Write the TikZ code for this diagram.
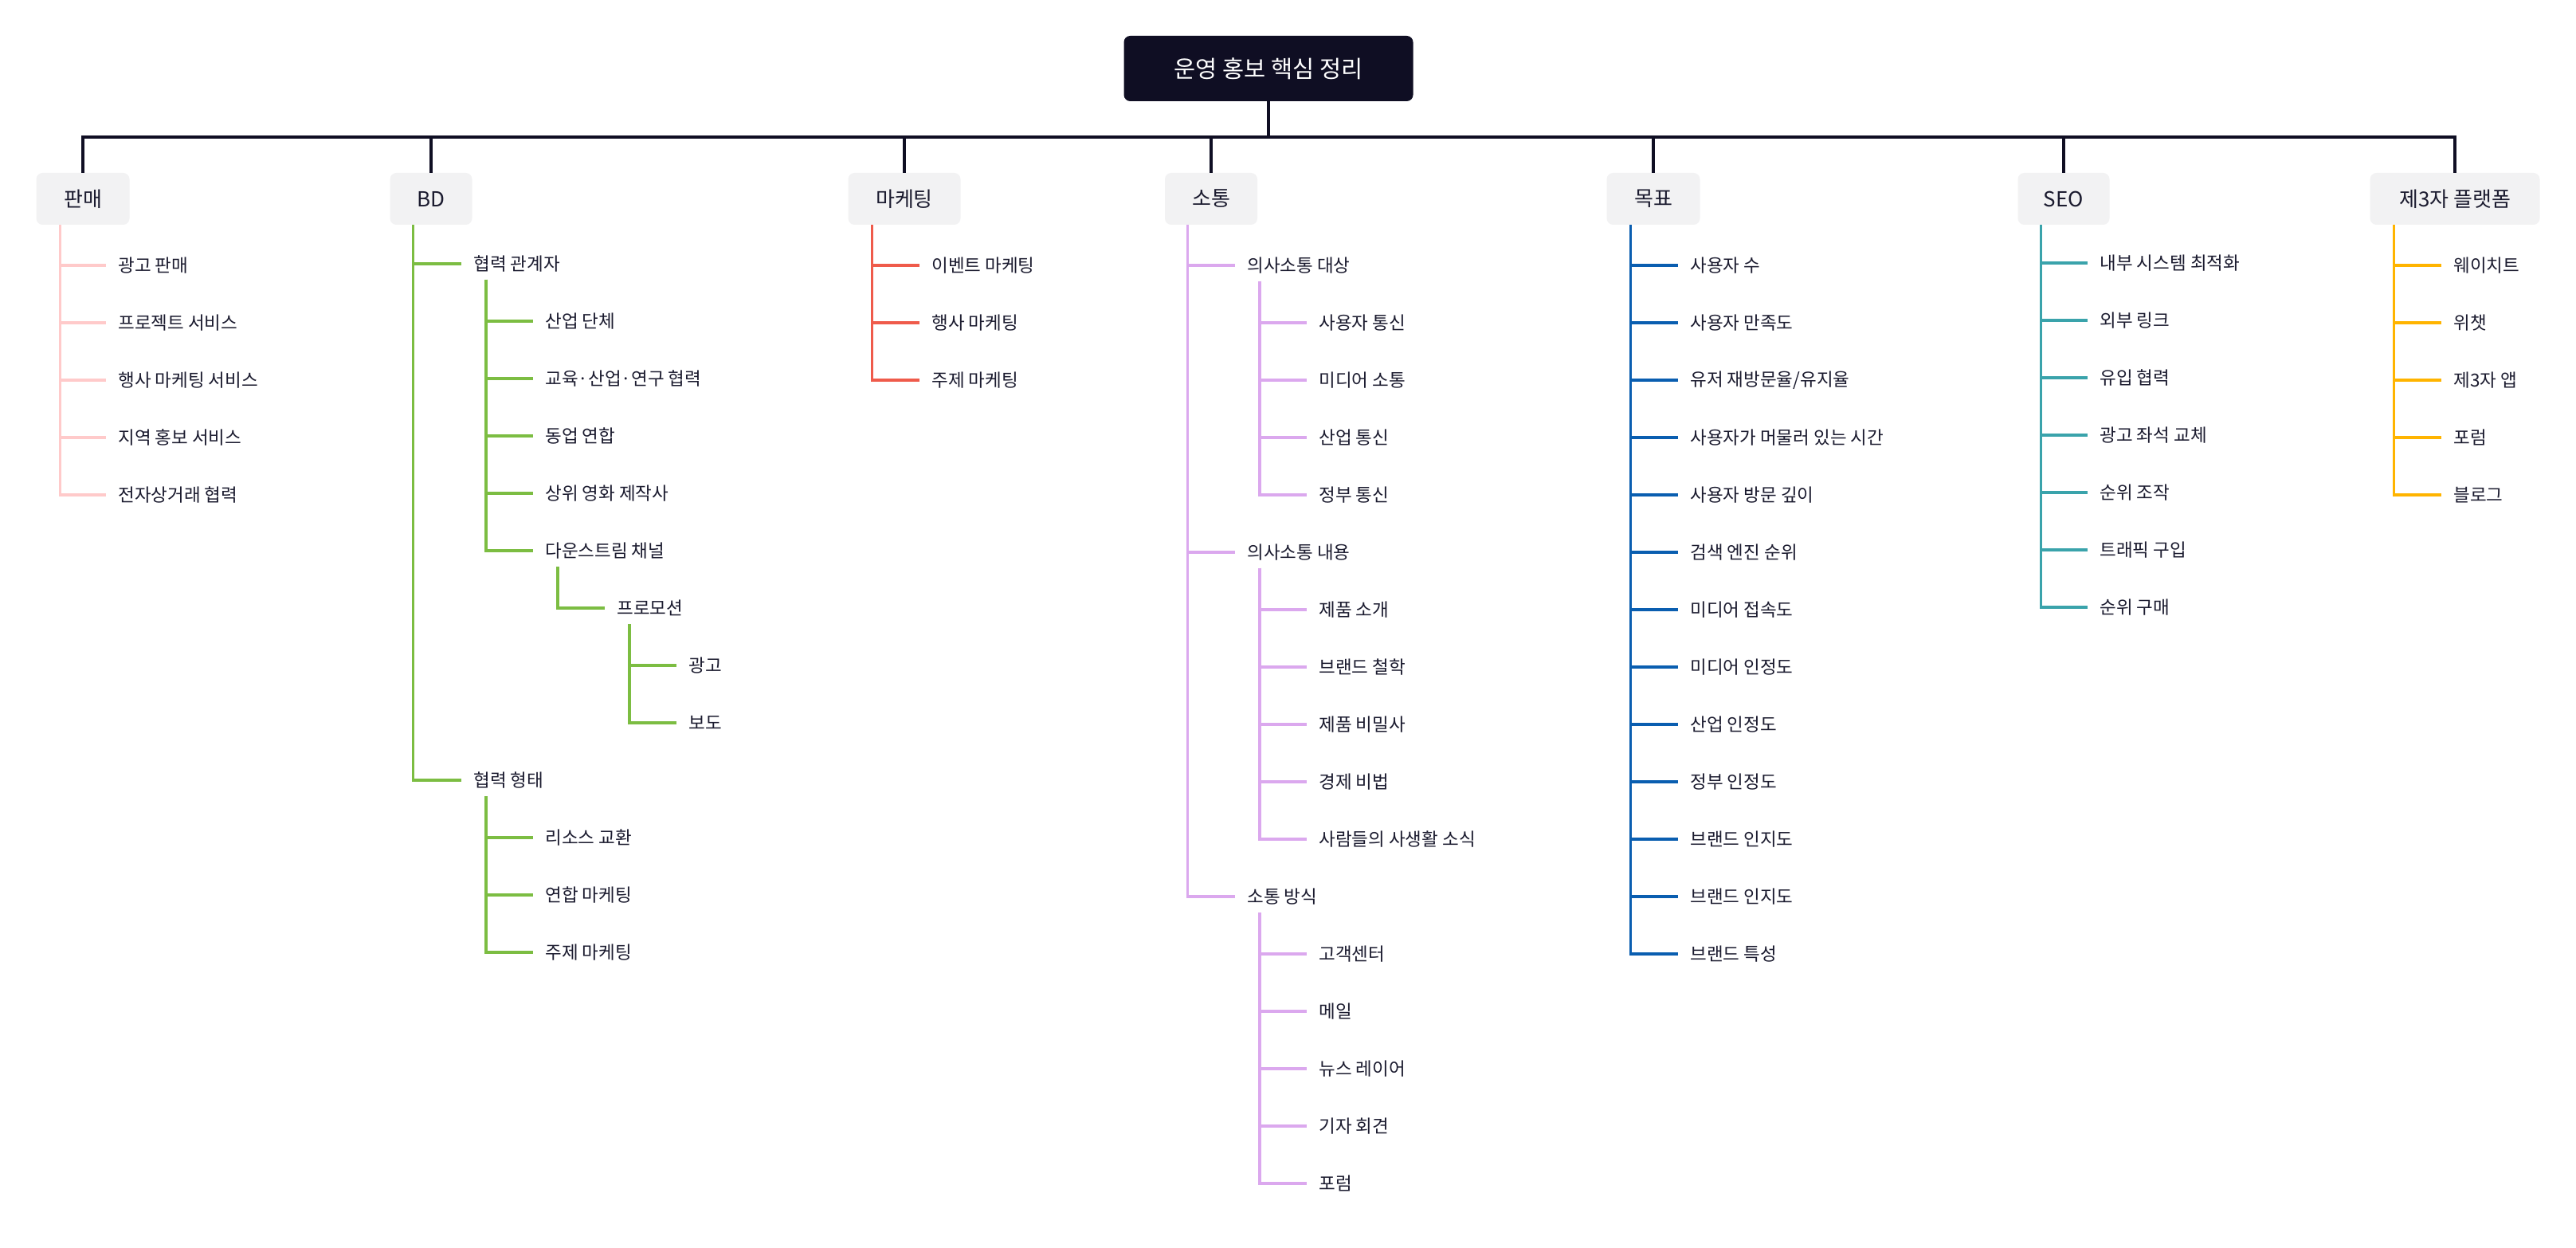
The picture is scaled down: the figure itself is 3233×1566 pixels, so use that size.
\documentclass[tikz,border=0pt]{standalone}
\usepackage{fontspec}
\setmainfont{Noto Sans CJK KR}
\usetikzlibrary{calc}
\definecolor{ink}{HTML}{1B1B2F}
\definecolor{rootbg}{HTML}{0F0E23}
\definecolor{catbg}{HTML}{F2F2F3}
\definecolor{cpink}{HTML}{FFCACA}
\definecolor{cgreen}{HTML}{7CBD42}
\definecolor{cred}{HTML}{EF5B4B}
\definecolor{cviolet}{HTML}{DBA8EE}
\definecolor{cblue}{HTML}{0A5EB0}
\definecolor{cteal}{HTML}{3AA3AB}
\definecolor{camber}{HTML}{FFB400}
\begin{document}
\begin{tikzpicture}[x=0.5pt,y=-0.5pt,
  leaf/.style={anchor=west, inner xsep=7.5pt, inner ysep=2pt, text=ink, font=\fontsize{11.25pt}{13pt}\selectfont},
  cat/.style={fill=catbg, rounded corners=4pt, minimum height=32.5pt, text=ink, inner sep=0pt, font=\fontsize{13pt}{15pt}\selectfont},
  rootbox/.style={fill=rootbg, rounded corners=4pt, minimum width=181.5pt, minimum height=41pt, text=white, font=\fontsize{14.75pt}{17pt}\selectfont},
  bus/.style={draw=rootbg, line width=1.6pt},
  br/.style={line width=1.6pt}
]
\useasboundingbox (0,0) rectangle (3233,1566);
\fill[white] (0,0) rectangle (3233,1566);

% root and categories
\node[rootbox] (root) at (1592,86) {운영 홍보 핵심 정리};
\coordinate (busy) at (0,172);
\node[cat, minimum width=58.5pt] (c1) at (104,249.5) {판매};
\node[cat, minimum width=51.5pt] (c2) at (541,249.5) {BD};
\node[cat, minimum width=70.5pt] (c3) at (1135,249.5) {마케팅};
\node[cat, minimum width=58pt] (c4) at (1520,249.5) {소통};
\node[cat, minimum width=58.5pt] (c5) at (2075,249.5) {목표};
\node[cat, minimum width=57.5pt] (c6) at (2590,249.5) {SEO};
\node[cat, minimum width=106.5pt] (c7) at (3081,249.5) {제3자 플랫폼};

\draw[bus] (c1.north) -- (c1.north |- busy) -- (c7.north |- busy) -- (c7.north);
\draw[bus] (root.south) -- (root.south |- busy);
\foreach \c in {c2,c3,c4,c5,c6} \draw[bus] (\c.north) -- (\c.north |- busy);

% 판매
\foreach \t [count=\i from 0] in {광고 판매,프로젝트 서비스,행사 마케팅 서비스,지역 홍보 서비스,전자상거래 협력} {
  \node[leaf] (p\i) at (133,{333+72*\i}) {\t};
  \draw[cpink, br] ($(c1.south west)+(30,0)$) |- (p\i.west);
}

% BD
\node[leaf] (b1) at (579,331) {협력 관계자};
\node[leaf] (b2) at (579,979) {협력 형태};
\draw[cgreen, br] ($(c2.south west)+(29,0)$) |- (b1.west);
\draw[cgreen, br] ($(c2.south west)+(29,0)$) |- (b2.west);
\node[leaf] (b11) at (669,403) {산업 단체};
\node[leaf] (b12) at (669,475) {교육·산업·연구 협력};
\node[leaf] (b13) at (669,547) {동업 연합};
\node[leaf] (b14) at (669,619) {상위 영화 제작사};
\node[leaf] (b15) at (669,691) {다운스트림 채널};
\foreach \n in {b11,b12,b13,b14,b15} \draw[cgreen, br] ($(b1.west)+(31,20)$) |- (\n.west);
\node[leaf] (b151) at (759,763) {프로모션};
\draw[cgreen, br] ($(b15.west)+(31,20)$) |- (b151.west);
\node[leaf] (b1511) at (849,835) {광고};
\node[leaf] (b1512) at (849,907) {보도};
\foreach \n in {b1511,b1512} \draw[cgreen, br] ($(b151.west)+(31,20)$) |- (\n.west);
\node[leaf] (b21) at (669,1051) {리소스 교환};
\node[leaf] (b22) at (669,1123) {연합 마케팅};
\node[leaf] (b23) at (669,1195) {주제 마케팅};
\foreach \n in {b21,b22,b23} \draw[cgreen, br] ($(b2.west)+(31,20)$) |- (\n.west);

% 마케팅
\foreach \t [count=\i from 0] in {이벤트 마케팅,행사 마케팅,주제 마케팅} {
  \node[leaf] (m\i) at (1154,{333+72*\i}) {\t};
  \draw[cred, br] ($(c3.south west)+(30,0)$) |- (m\i.west);
}

% 소통
\node[leaf] (s1) at (1550,333) {의사소통 대상};
\node[leaf] (s2) at (1550,693) {의사소통 내용};
\node[leaf] (s3) at (1550,1125) {소통 방식};
\foreach \n in {s1,s2,s3} \draw[cviolet, br] ($(c4.south west)+(29,0)$) |- (\n.west);
\foreach \t [count=\i from 1] in {사용자 통신,미디어 소통,산업 통신,정부 통신} {
  \node[leaf] (sa\i) at (1640,{333+72*\i}) {\t};
  \draw[cviolet, br] ($(s1.west)+(31,20)$) |- (sa\i.west);
}
\foreach \t [count=\i from 1] in {제품 소개,브랜드 철학,제품 비밀사,경제 비법,사람들의 사생활 소식} {
  \node[leaf] (sb\i) at (1640,{693+72*\i}) {\t};
  \draw[cviolet, br] ($(s2.west)+(31,20)$) |- (sb\i.west);
}
\foreach \t [count=\i from 1] in {고객센터,메일,뉴스 레이어,기자 회견,포럼} {
  \node[leaf] (sc\i) at (1640,{1125+72*\i}) {\t};
  \draw[cviolet, br] ($(s3.west)+(31,20)$) |- (sc\i.west);
}

% 목표
\foreach \t [count=\i from 0] in {사용자 수,사용자 만족도,유저 재방문율/유지율,사용자가 머물러 있는 시간,사용자 방문 깊이,검색 엔진 순위,미디어 접속도,미디어 인정도,산업 인정도,정부 인정도,브랜드 인지도,브랜드 인지도,브랜드 특성} {
  \node[leaf] (g\i) at (2106,{333+72*\i}) {\t};
  \draw[cblue, br] ($(c5.south west)+(30,0)$) |- (g\i.west);
}

% SEO
\foreach \t [count=\i from 0] in {내부 시스템 최적화,외부 링크,유입 협력,광고 좌석 교체,순위 조작,트래픽 구입,순위 구매} {
  \node[leaf] (e\i) at (2620,{330+72*\i}) {\t};
  \draw[cteal, br] ($(c6.south west)+(29,0)$) |- (e\i.west);
}

% 제3자 플랫폼
\foreach \t [count=\i from 0] in {웨이치트,위챗,제3자 앱,포럼,블로그} {
  \node[leaf] (t\i) at (3064,{333+72*\i}) {\t};
  \draw[camber, br] ($(c7.south west)+(30,0)$) |- (t\i.west);
}
\end{tikzpicture}
\end{document}
